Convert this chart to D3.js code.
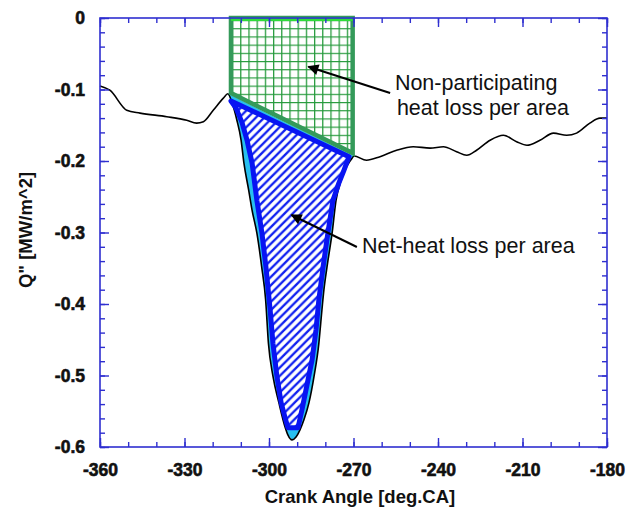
<!doctype html>
<html lang="en">
<head>
<meta charset="utf-8">
<style>
	body{ margin:0; background:#fff; }
	text{ font-family:"Liberation Sans", Arial, sans-serif; }
</style>
</head>
<body>
<div id="grafico"></div>
<script src="https://d3js.org/d3.v7.min.js"></script>
<script>

// heat flux trace, crank angle [deg] vs Q'' [MW/m^2]
var angulo = [-360,-356.5,-350.5,-345.8,-336.3,-329.2,-325.7,-323.3,-319.8,-316.2,-314.6,
	-313.1,-311.4,-309.9,-308.9,-307.2,-306.0,-304.3,-302.6,-301.2,-300.2,-298.6,-296.5,-294.3,-293.3,-291.8,
	-290.4,-289.0,-287.6,-285.8,-284.0,-282.3,-281.2,-280.5,-279.4,-277.6,-276.2,-274.4,-272.3,-270.5,-269.8,
	-265.4,-260.6,-254.7,-248.8,-242.8,-238.1,-233.4,-229.8,-226.3,-221.5,-216.8,-212.1,-208.4,-203.8,-199,
	-194.3,-190.8,-186.1,-182.5,-180];
var flujo = [-0.095,-0.101,-0.129,-0.133,-0.138,-0.143,-0.147,-0.145,-0.129,-0.112,-0.106,
	-0.119,-0.143,-0.171,-0.203,-0.241,-0.269,-0.301,-0.348,-0.394,-0.455,-0.501,-0.538,-0.572,-0.583,-0.590,
	-0.586,-0.576,-0.562,-0.538,-0.501,-0.455,-0.408,-0.380,-0.348,-0.301,-0.255,-0.227,-0.207,-0.196,-0.193,
	-0.199,-0.194,-0.185,-0.180,-0.182,-0.180,-0.187,-0.192,-0.185,-0.171,-0.164,-0.173,-0.178,-0.171,-0.161,
	-0.164,-0.161,-0.147,-0.140,-0.140];

// net-heat loss region outline
var netoX = [-313.5,-271.6,-273.4,-275.2,-277.3,-279.1,-280.8,-282.3,-283.3,-284.7,-286.5,-288.3,-289.7,
	-293.3,-294.3,-295.7,-297.2,-298.6,-299.6,-301.1,-302.5,-304.3,-306.0,-307.8,-309.6,-311.7];
var netoY = [-0.116,-0.194,-0.213,-0.231,-0.255,-0.301,-0.348,-0.394,-0.436,-0.478,-0.513,-0.548,-0.573,
	-0.573,-0.559,-0.538,-0.501,-0.455,-0.408,-0.348,-0.301,-0.255,-0.203,-0.171,-0.146,-0.126];

// non-participating region outline
var noPartX = [-313.5,-313.5,-270.3,-270.3];
var noPartY = [0,-0.105,-0.189,0];

var xTicks = [-360,-330,-300,-270,-240,-210,-180];
var yTicks = [0,-0.1,-0.2,-0.3,-0.4,-0.5,-0.6];

var notas = [
	{lineas:["Non-participating","heat loss per area"], x:-255.3, y:-0.1007, desdeX:-257.0, desdeY:-0.1049, hastaX:-286.0, hastaY:-0.0681},
	{lineas:["Net-heat loss per area"], x:-267.0, y:-0.3287, desdeX:-268.8, desdeY:-0.3203, hastaX:-292.0, hastaY:-0.2755}
];

var w = 637, h = 514;
var azul = "#2f2fd0";

var svg = d3.select("#grafico").append("svg").attr("width",w).attr("height",h);

var x = d3.scaleLinear().domain([-360,-180]).range([100,607]);
var y = d3.scaleLinear().domain([-0.6,0]).range([447,18]);

var defs = svg.append("defs");

var grid = defs.append("pattern").attr("id","grid").attr("patternUnits","userSpaceOnUse")
	.attr("width",8.2).attr("height",8.2).attr("x",x(-313.5)+1).attr("y",y(0)+2);
grid.append("rect").attr("width",8.2).attr("height",8.2).attr("fill","#fff");
grid.append("path").attr("d","M0,0.6H8.2M0.6,0V8.2").attr("stroke","#23993a").attr("stroke-width",1.3);

var hatch = defs.append("pattern").attr("id","hatch").attr("patternUnits","userSpaceOnUse")
	.attr("width",8.3).attr("height",8.3);
hatch.append("rect").attr("width",8.3).attr("height",8.3).attr("fill","#fff");
hatch.append("path").attr("d","M-1,9.3L9.3,-1M-3,3L3,-3M5.3,11.3L11.3,5.3").attr("stroke","#1020f0").attr("stroke-width",2.3);

var datos = angulo.map(function(d,i){ return [d, flujo[i]]; });
var linea = d3.line().x(function(d){ return x(d[0]); }).y(function(d){ return y(d[1]); }).curve(d3.curveMonotoneX);

// cyan area between trace and chord
var dip = datos.filter(function(d){ return d[0] >= -314.6 && d[0] <= -269.8; });
var cian = d3.line().x(function(d){ return x(d[0]); }).y(function(d){ return y(d[1]); }).curve(d3.curveLinearClosed);
svg.append("path").attr("d",cian(dip)).attr("fill","#27bfef").attr("stroke","none");

// trace
svg.append("path").attr("d",linea(datos)).attr("fill","none").attr("stroke","#000").attr("stroke-width",1.6);

// non-participating area
var poli = d3.line().x(function(d){ return x(d[0]); }).y(function(d){ return y(d[1]); }).curve(d3.curveLinearClosed);
var noPart = noPartX.map(function(d,i){ return [d, noPartY[i]]; });
svg.append("path").attr("d",poli(noPart)).attr("fill","url(#grid)").attr("stroke","#349a5a")
	.attr("stroke-width",4.5).attr("stroke-linejoin","miter");
svg.append("line").attr("x1",x(noPartX[0])).attr("x2",x(noPartX[3])).attr("y1",y(0)+1).attr("y2",y(0)+1)
	.attr("stroke","#2fdc3a").attr("stroke-width",4);

// net-heat area
var neto = netoX.map(function(d,i){ return [d, netoY[i]]; });
svg.append("path").attr("d",poli(neto)).attr("fill","url(#hatch)").attr("stroke","#0814f2")
	.attr("stroke-width",5).attr("stroke-linejoin","round");

// axes
var fmt = function(d){ return d === 0 ? "0" : d3.format(".1f")(d).replace("\u2212","-"); };

function ejes(){
	var minX = d3.range(-360,-179,10), minY = d3.range(0,61,2).map(function(d){ return -d/100; });

	svg.append("g").attr("transform","translate(0,"+y(-0.6)+")").call(d3.axisBottom(x).tickValues(minX).tickSize(-5).tickFormat(""));
	svg.append("g").attr("transform","translate(0,"+y(-0.6)+")").call(d3.axisBottom(x).tickValues(xTicks).tickSize(-9).tickPadding(17)
		.tickFormat(function(d){ return String(d); }));
	svg.append("g").attr("transform","translate(0,"+y(0)+")").call(d3.axisTop(x).tickValues(minX).tickSize(-5).tickFormat(""));
	svg.append("g").attr("transform","translate(0,"+y(0)+")").call(d3.axisTop(x).tickValues(xTicks).tickSize(-9).tickFormat(""));

	svg.append("g").attr("transform","translate("+x(-360)+",0)").call(d3.axisLeft(y).tickValues(minY).tickSize(-5).tickFormat(""));
	svg.append("g").attr("transform","translate("+x(-360)+",0)").call(d3.axisLeft(y).tickValues(yTicks).tickSize(-9).tickPadding(15).tickFormat(fmt));
	svg.append("g").attr("transform","translate("+x(-180)+",0)").call(d3.axisRight(y).tickValues(minY).tickSize(-5).tickFormat(""));
	svg.append("g").attr("transform","translate("+x(-180)+",0)").call(d3.axisRight(y).tickValues(yTicks).tickSize(-9).tickFormat(""));

	svg.selectAll(".domain").remove();
	svg.selectAll(".tick line").attr("stroke",azul).attr("stroke-width",1.4);
	svg.selectAll(".tick text").attr("fill","#111").attr("stroke","#111").attr("stroke-width",0.6)
		.style("font-family","'Liberation Sans', Arial, sans-serif")
		.style("font-weight","bold").style("font-size","17.5px");

	svg.append("rect").attr("x",x(-360)).attr("y",y(0)).attr("width",x(-180)-x(-360)).attr("height",y(-0.6)-y(0))
		.attr("fill","none").attr("stroke",azul).attr("stroke-width",1.6);
}
ejes();

// annotations
defs.append("marker").attr("id","flecha").attr("viewBox","0 0 10 10").attr("refX",9).attr("refY",5)
	.attr("markerWidth",14).attr("markerHeight",11).attr("markerUnits","userSpaceOnUse").attr("orient","auto")
	.append("path").attr("d","M0,0L10,5L0,10Z").attr("fill","#000");

notas.forEach(function(n){
	svg.append("line").attr("x1",x(n.desdeX)).attr("y1",y(n.desdeY)).attr("x2",x(n.hastaX)).attr("y2",y(n.hastaY))
		.attr("stroke","#000").attr("stroke-width",2).attr("marker-end","url(#flecha)");
	var t = svg.append("text").attr("x",x(n.x)).attr("y",y(n.y)).attr("fill","#111").style("font-size","21.5px");
	n.lineas.forEach(function(l,i){
		t.append("tspan").attr("x",x(n.x)+(i>0?2:0)).attr("dy",i>0?25:0).text(l);
	});
});

// axis titles
svg.append("text").attr("x",360).attr("y",503).attr("text-anchor","middle").style("font-size","18.5px")
	.style("font-weight","bold").attr("fill","#111").text("Crank Angle [deg.CA]");
svg.append("text").attr("transform","translate(32,230) rotate(-90)").attr("text-anchor","middle").style("font-size","18.5px")
	.style("font-weight","bold").attr("fill","#111").text("Q\" [MW/m^2]");

</script>
</body>
</html>
